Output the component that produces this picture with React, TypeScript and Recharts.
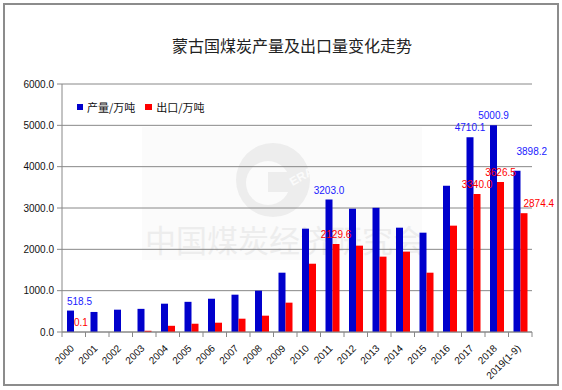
import React from 'react';
import { BarChart, Bar, XAxis, YAxis, CartesianGrid, LabelList } from 'recharts';

const years = ['2000', '2001', '2002', '2003', '2004', '2005', '2006', '2007', '2008', '2009', '2010', '2011', '2012', '2013', '2014', '2015', '2016', '2017', '2018', '2019(1-9)'];
const production = [518.5, 485, 540, 560, 685, 730, 805, 903, 1000, 1435, 2500, 3203.0, 2983, 3005, 2524, 2403, 3540, 4710.1, 5000.9, 3898.2];
const exportVolume = [0.1, 0, 0, 30, 150, 200, 225, 322, 395, 710, 1652, 2129.6, 2089, 1823, 1944, 1435, 2573, 3340.0, 3626.5, 2874.4];
const labeledYears = ['2000', '2011', '2017', '2018', '2019(1-9)'];
const yTicks = [0, 1000, 2000, 3000, 4000, 5000, 6000];
const seriesNames = ['产量/万吨', '出口/万吨'];
const title = '蒙古国煤炭产量及出口量变化走势';
const watermark = '中国煤炭经济研究会';

const data = years.map((y, i) => ({ year: y, production: production[i], exports: exportVolume[i] }));

const W = 562;
const H = 390;
const PLOT_LEFT = 62;
const PLOT_RIGHT = 532;
const PLOT_TOP = 84;
const PLOT_BOTTOM = 332;
const BLUE = '#0000CC';
const RED = '#FF0000';
const NUM_FONT = '"Liberation Sans", Arial, sans-serif';
const CJK_FONT = '"Noto Sans CJK SC", sans-serif';

const bandWidth = (PLOT_RIGHT - PLOT_LEFT) / years.length;

const XTick = (props: any) => {
  const { x, y, payload, index } = props;
  const bx = x - bandWidth / 2;
  return (
    <g>
      <line x1={bx} y1={y} x2={bx} y2={y + 5} stroke="#888" strokeWidth={1} />
      {index === years.length - 1 && (
        <line x1={x + bandWidth / 2} y1={y} x2={x + bandWidth / 2} y2={y + 5} stroke="#888" strokeWidth={1} />
      )}
      <text
        x={x + 1}
        y={y + 17}
        textAnchor="end"
        transform={`rotate(-45, ${x + 1}, ${y + 17})`}
        fontSize={10}
        fontFamily={NUM_FONT}
        fill="#111"
      >
        {payload.value}
      </text>
    </g>
  );
};

const makeLabel = (color: string, extraLast: number) => (props: any) => {
  const { x, y, width, value } = props;
  const idx = Math.floor((x + width / 2 - PLOT_LEFT) / bandWidth);
  if (idx < 0 || idx >= years.length || !labeledYears.includes(years[idx])) return null;
  let tx = x + width / 2;
  let anchor: 'start' | 'middle' | 'end' = 'middle';
  let ty = y - 6;
  if (idx === 0) {
    tx = x;
    anchor = 'start';
  } else if (idx === years.length - 1) {
    tx = x + 3;
    anchor = 'start';
    ty -= extraLast;
  }
  return (
    <text x={tx} y={ty} textAnchor={anchor} fontSize={10} fontFamily={NUM_FONT} fill={color}>
      {Number(value).toFixed(1)}
    </text>
  );
};

export default function App() {
  return (
    <div style={{ position: 'absolute', left: 0, top: 0, width: W, height: H, background: '#fff' }}>
      <div
        style={{
          position: 'absolute',
          left: 3,
          top: 3,
          width: 552,
          height: 379,
          border: '2px solid #8c8c8c',
        }}
      />
      <div
        style={{
          position: 'absolute',
          left: 172,
          top: 36,
          whiteSpace: 'nowrap',
          fontFamily: CJK_FONT,
          fontSize: 16,
          lineHeight: '18px',
          color: '#222',
        }}
      >
        {title}
      </div>
      {/* watermark */}
      <div style={{ position: 'absolute', left: 142, top: 127, width: 280, height: 133, background: '#fbfbfb' }} />
      <svg style={{ position: 'absolute', left: 0, top: 0 }} width={W} height={H}>
        <circle cx={273} cy={180} r={37} fill="#ededed" />
        <circle cx={268} cy={183} r={22} fill="#fbfbfb" />
        <rect x={268} y={172} width={40} height={20} fill="#ededed" />
        <text x={290} y={187} fontSize={12} fontWeight="bold" fontFamily={NUM_FONT} fill="#fbfbfb" transform="rotate(-30, 290, 182)">ERA</text>
        <text x={145} y={252} fontSize={31} fontFamily={CJK_FONT} fill="#ededed">{watermark}</text>
      </svg>
      <div style={{ position: 'absolute', left: 0, top: 0 }}>
        <BarChart
          width={W}
          height={H}
          data={data}
          margin={{ top: PLOT_TOP, right: W - PLOT_RIGHT, bottom: 0, left: 0 }}
          barGap={0}
          barSize={7}
        >
          <CartesianGrid horizontal vertical={false} stroke="#888" strokeWidth={1} />
          <XAxis
            dataKey="year"
            interval={0}
            height={H - PLOT_BOTTOM}
            tickSize={0}
            tickMargin={0}
            tickLine={false}
            axisLine={{ stroke: '#888' }}
            tick={<XTick />}
          />
          <YAxis
            width={PLOT_LEFT}
            domain={[0, 6000]}
            ticks={yTicks}
            interval={0}
            tickSize={5}
            tickMargin={3}
            tickLine={{ stroke: '#888' }}
            axisLine={{ stroke: '#888' }}
            tickFormatter={(v: number) => v.toFixed(1)}
            tick={{ fontSize: 10, fontFamily: NUM_FONT, fill: '#111' }}
          />
          <Bar dataKey="production" name={seriesNames[0]} fill={BLUE} isAnimationActive={false}>
            <LabelList dataKey="production" content={makeLabel('#1a1aff', 10)} />
          </Bar>
          <Bar dataKey="exports" name={seriesNames[1]} fill={RED} isAnimationActive={false}>
            <LabelList dataKey="exports" content={makeLabel(RED, 0)} />
          </Bar>
        </BarChart>
      </div>
      <div
        style={{
          position: 'absolute',
          left: 77,
          top: 101,
          display: 'flex',
          alignItems: 'center',
          fontFamily: CJK_FONT,
          fontSize: 11,
          color: '#111',
          lineHeight: '12px',
          whiteSpace: 'nowrap',
        }}
      >
        <span style={{ display: 'inline-block', width: 6, height: 6, background: BLUE, marginRight: 4 }} />
        <span style={{ marginRight: 10 }}>{seriesNames[0]}</span>
        <span style={{ display: 'inline-block', width: 7, height: 6, background: RED, marginRight: 4 }} />
        <span>{seriesNames[1]}</span>
      </div>
    </div>
  );
}
